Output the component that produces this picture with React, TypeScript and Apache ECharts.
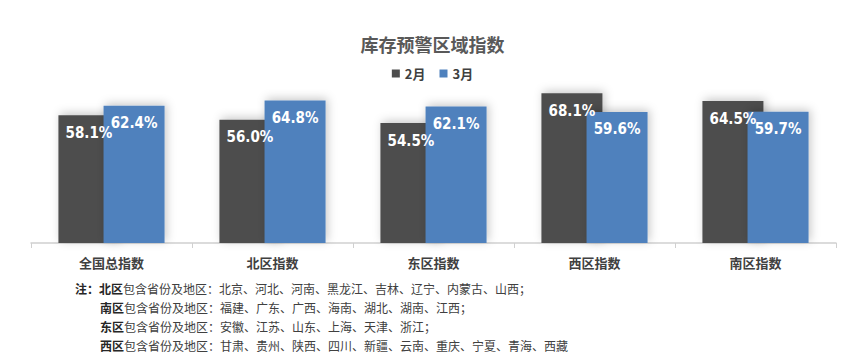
import React, { useEffect, useRef } from "react";
import * as echarts from "echarts";

const categories = ["全国总指数", "北区指数", "东区指数", "西区指数", "南区指数"];
const seriesNames = ["2月", "3月"];
const febValues = [58.1, 56.0, 54.5, 68.1, 64.5];
const marValues = [62.4, 64.8, 62.1, 59.6, 59.7];
const titleText = "库存预警区域指数";
const noteRegions = ["北区", "南区", "东区", "西区"];
const noteLists = [
  "北京、河北、河南、黑龙江、吉林、辽宁、内蒙古、山西；",
  "福建、广东、广西、海南、湖北、湖南、江西；",
  "安徽、江苏、山东、上海、天津、浙江；",
  "甘肃、贵州、陕西、四川、新疆、云南、重庆、宁夏、青海、西藏",
];

const CJK = '"Noto Sans CJK SC", "Microsoft YaHei", sans-serif';

export default function App() {
  const ref = useRef<HTMLDivElement>(null);
  useEffect(() => {
    document.body.style.margin = "0";
    if (!ref.current) return;
    const chart = echarts.init(ref.current, undefined, { renderer: "svg" });
    const labelStyle = {
      show: true,
      position: "insideTop",
      distance: 10,
      color: "#ffffff",
      fontFamily: '"DejaVu Sans Condensed", "Liberation Sans Narrow", sans-serif',
      fontWeight: "bold",
      fontSize: 15,
      formatter: (p: any) => p.value.toFixed(1) + "%",
    };
    const shadow = {
      shadowBlur: 10,
      shadowColor: "rgba(0,0,0,0.22)",
      shadowOffsetX: 2,
      shadowOffsetY: -2,
    };
    const noteGraphics = noteRegions.map((r, i) => ({
      type: "text",
      left: i === 0 ? 75 : 100,
      top: 282 + i * 19,
      style: {
        text: (i === 0 ? "{b|注：}" : "") + "{b|" + r + "}{n|包含省份及地区：" + noteLists[i] + "}",
        rich: {
          b: { fontFamily: CJK, fontSize: 12, fontWeight: "bold", fill: "#262626" },
          n: { fontFamily: CJK, fontSize: 12, fill: "#404040" },
        },
      },
    }));
    chart.setOption({
      animation: false,
      backgroundColor: "#ffffff",
      title: {
        text: titleText,
        left: "center",
        top: 30,
        textStyle: { fontFamily: CJK, fontSize: 18, fontWeight: "bold", color: "#595959" },
      },
      legend: {
        data: seriesNames,
        top: 62,
        left: "center",
        itemWidth: 8,
        itemHeight: 8,
        itemGap: 14,
        icon: "rect",
        textStyle: { fontFamily: CJK, fontSize: 13, fontWeight: "bold", color: "#404040" },
      },
      grid: { left: 31, right: 29, top: 67, height: 176 },
      xAxis: {
        type: "category",
        data: categories,
        axisLine: { lineStyle: { color: "#d0d0d0", width: 1.5 } },
        axisTick: { show: true, length: 5, lineStyle: { color: "#d0d0d0" } },
        axisLabel: {
          margin: 13,
          fontFamily: CJK,
          fontSize: 13,
          fontWeight: "bold",
          color: "#404040",
        },
      },
      yAxis: {
        type: "value",
        min: 0,
        max: 80,
        show: false,
        splitLine: { show: false },
      },
      series: [
        {
          name: seriesNames[0],
          type: "bar",
          data: febValues,
          barWidth: 61,
          barGap: "-26%",
          itemStyle: { color: "#4d4d4d", ...shadow },
          label: labelStyle,
        },
        {
          name: seriesNames[1],
          type: "bar",
          data: marValues,
          barWidth: 61,
          barGap: "-26%",
          itemStyle: { color: "#4f81bd", ...shadow },
          label: labelStyle,
        },
      ],
      graphic: noteGraphics,
    });
    return () => chart.dispose();
  }, []);
  return <div ref={ref} style={{ width: 865, height: 361 }} />;
}
